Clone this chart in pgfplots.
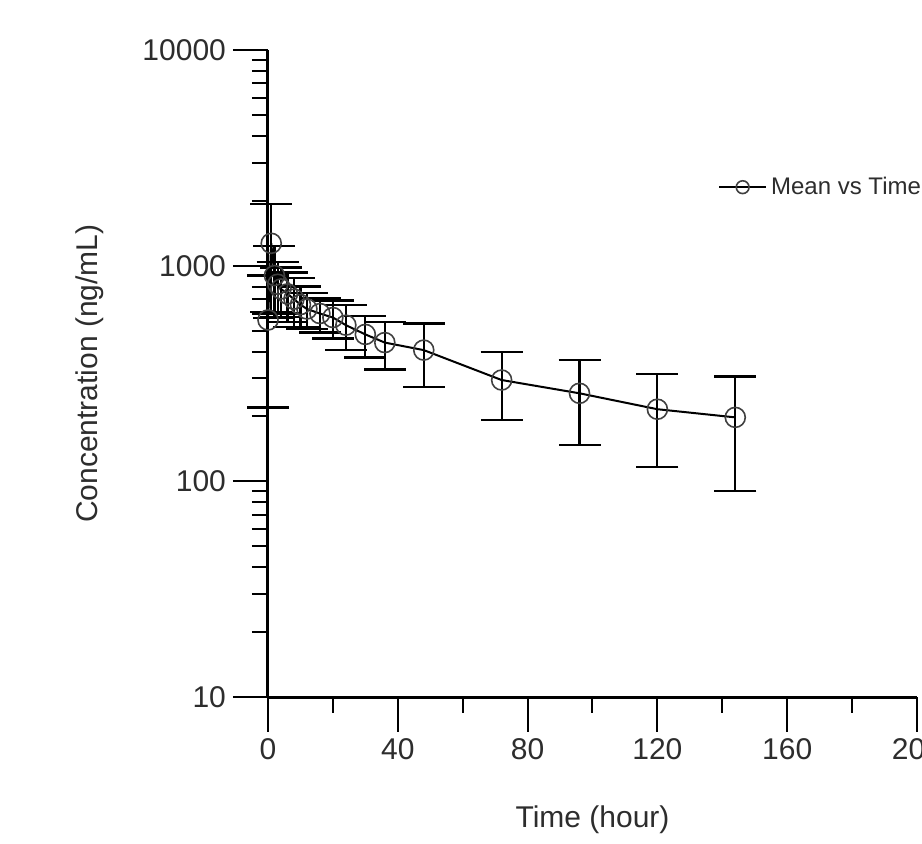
\documentclass[border=0pt]{standalone}
\usepackage{pgfplots}
\pgfplotsset{compat=1.18}
\usepackage{pgfplotstable}
\usepackage{fontspec}
\setmainfont{Liberation Sans}
\definecolor{txt}{RGB}{45,45,45}

\pgfplotstableread{
t m sd
0 560 340
1 1270 660
2 900 330
3 820 220
4 780 200
6 740 190
8 700 180
10 660 140
12 630 120
16 600 110
20 575 115
24 530 125
30 480 105
36 440 110
48 406 133
72 295 102
96 256 108
120 216 99
144 198 108
}\conc

\begin{document}
\begin{tikzpicture}
\begin{axis}[
  scale only axis, width=324.5pt, height=323.5pt,
  at={(0,0)}, anchor=south west,
  xmin=0, xmax=200, ymin=10, ymax=10000, ymode=log,
  axis lines=left, axis line style={-, line width=1.5pt, black},
  xtick={0,40,80,120,160,200}, xticklabels={0,40,80,120,160,200},
  minor xtick={20,60,100,140,180},
  ytick={10,100,1000,10000}, yticklabels={10,100,1000,10000},
  minor ytick={20,30,40,50,60,70,80,90,200,300,400,500,600,700,800,900,2000,3000,4000,5000,6000,7000,8000,9000},
  tick align=outside,
  major tick length=17.5pt, minor tick length=8pt,
  every tick/.style={line width=1pt, black},
  /pgf/number format/assume math mode=true,
  tick label style={font=\fontsize{15}{18}\selectfont, text=txt},
  xlabel={Time (hour)}, ylabel={Concentration (ng/mL)},
  label style={font=\fontsize{15}{18}\selectfont, text=txt},
  xlabel style={at={(rel axis cs:0.5,0)}, anchor=center, yshift=-61.5pt},
  ylabel style={at={(rel axis cs:0,0.5)}, anchor=center, yshift=89pt},
  clip=false,
  legend style={at={(rel axis cs:0.693,0.788)}, anchor=west, draw=none, fill=none,
    font=\fontsize{12}{14}\selectfont, text=txt, inner sep=0pt},
  legend image code/.code={%
    \draw[black, line width=1pt, mark repeat=2, mark phase=2, mark=o, mark size=3.2pt,
      mark options={draw=black!75, line width=0.8pt}]
      plot coordinates {(0pt,0pt) (11.75pt,0pt) (23.5pt,0pt)};},
]
\addplot[black, line width=1pt, mark=o, mark size=5pt,
  mark options={draw=black!75, line width=0.8pt, fill=none},
  error bars/.cd, y dir=both, y explicit,
  error bar style={line width=1.1pt, black},
  error mark options={rotate=90, mark size=10.5pt, line width=1.1pt, black}]
  table[x=t, y=m, y error=sd] {\conc};
\addlegendentry{Mean vs Time}
\end{axis}
\pgfresetboundingbox
\path[use as bounding box] (-134pt,-73pt) rectangle (327pt,348.5pt);
\end{tikzpicture}
\end{document}
